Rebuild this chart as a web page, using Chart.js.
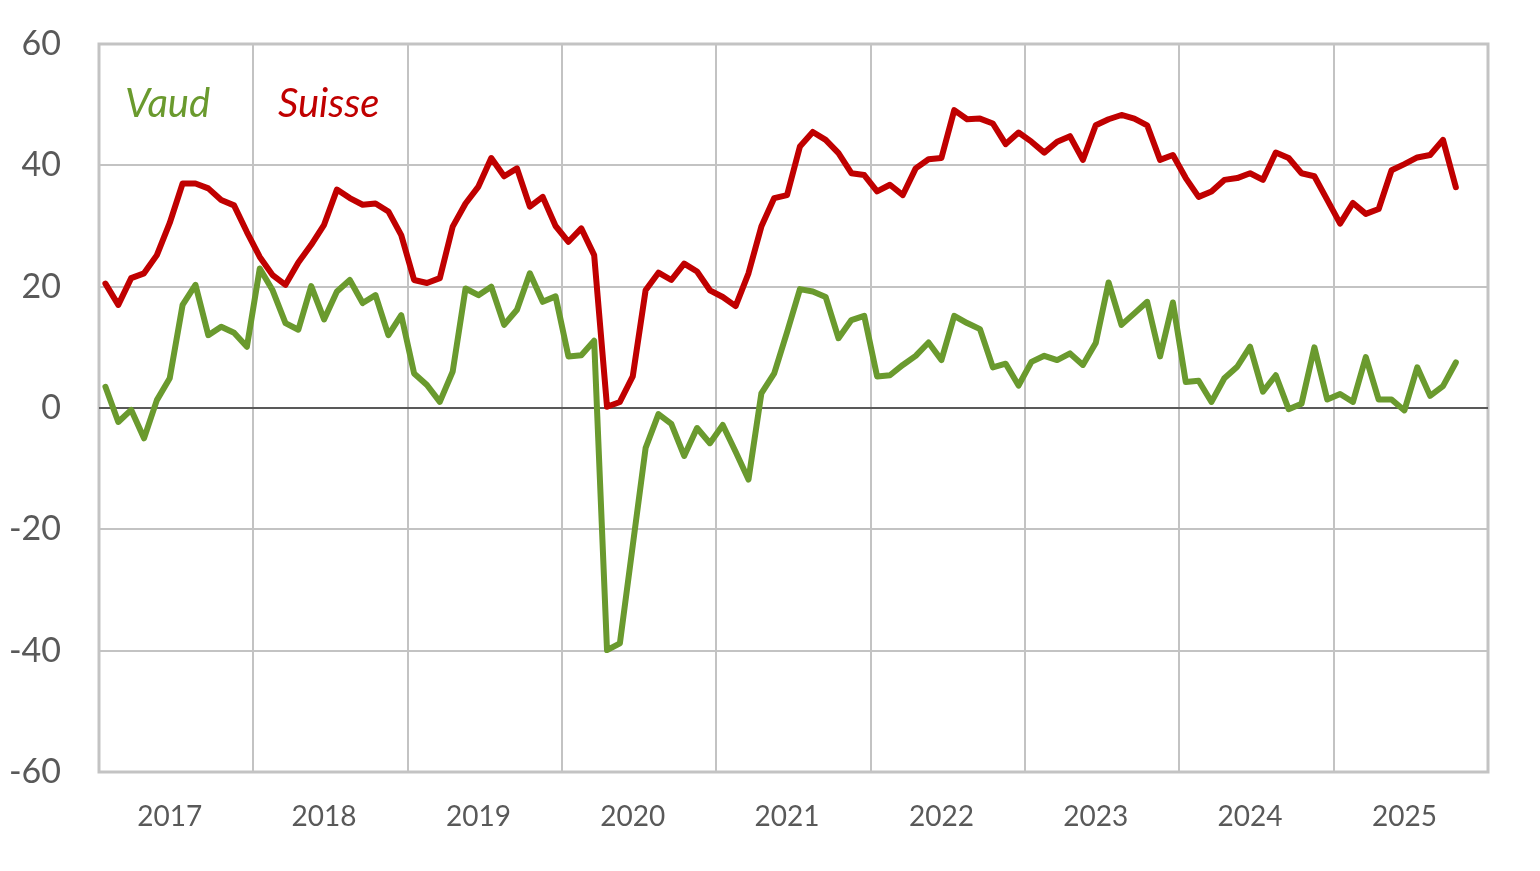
<!DOCTYPE html>
<html><head><meta charset="utf-8">
<script src="https://cdn.jsdelivr.net/npm/chart.js@4"></script>
<style>html,body{margin:0;padding:0;background:#fff;}#wrap{width:1540px;height:871px;}</style>
</head><body><div id="wrap"><canvas id="c" width="1540" height="871"></canvas></div>
<script>
const years = ['2017','2018','2019','2020','2021','2022','2023','2024','2025'];
const months = ['01','02','03','04','05','06','07','08','09','10','11','12'];
const yTicks = [-60,-40,-20,0,20,40,60];
const seriesNames = ['Vaud','Suisse'];

const vaud = [
  3.5,-2.3,-0.3,-5.0,1.3,4.9,17.0,20.3,12.0,13.4,12.4,10.1,
  23.0,19.4,14.0,12.9,20.1,14.6,19.2,21.1,17.3,18.6,12.0,15.3,
  5.7,3.8,1.0,6.0,19.7,18.6,20.0,13.7,16.2,22.2,17.5,18.4,
  8.5,8.7,11.1,-39.9,-38.8,-22.7,-6.6,-1.0,-2.6,-7.9,-3.3,-5.8,
  -2.8,-7.2,-11.8,2.4,5.7,12.5,19.6,19.2,18.3,11.5,14.5,15.2,
  5.2,5.4,7.1,8.6,10.8,7.9,15.2,14.0,13.0,6.7,7.3,3.7,
  7.6,8.6,7.9,9.0,7.1,10.7,20.7,13.7,15.6,17.5,8.5,17.4,
  4.3,4.5,1.0,4.9,6.8,10.1,2.7,5.4,-0.2,0.7,10.0,1.4,
  2.3,1.0,8.4,1.4,1.4,-0.4,6.7,2.0,3.6,7.5
];
const suisse = [
  20.5,17.0,21.4,22.2,25.2,30.5,37.0,37.0,36.2,34.3,33.4,29.0,
  24.9,21.9,20.3,24.0,26.9,30.2,36.0,34.6,33.5,33.7,32.4,28.5,
  21.1,20.6,21.4,29.9,33.7,36.5,41.2,38.2,39.5,33.2,34.8,30.0,
  27.4,29.6,25.2,0.2,1.0,5.2,19.4,22.3,21.1,23.8,22.5,19.4,
  18.3,16.8,22.2,29.9,34.6,35.1,43.1,45.5,44.2,42.0,38.7,38.4,
  35.7,36.8,35.1,39.5,41.0,41.2,49.1,47.6,47.7,46.9,43.5,45.4,
  43.9,42.1,43.9,44.8,40.9,46.6,47.6,48.3,47.7,46.6,40.9,41.7,
  37.9,34.8,35.7,37.6,37.9,38.7,37.6,42.1,41.2,38.7,38.2,34.3,
  30.4,33.8,32.0,32.8,39.2,40.2,41.3,41.7,44.2,36.4
];

const labels = [];
years.forEach(y => months.forEach(m => labels.push(y + '-' + m)));

const GREEN = '#6a9a2e';
const RED = '#c00000';
const GRID = '#c3c3c3';
const TXT = '#595959';
const FONT = 'Lato, "Liberation Sans", sans-serif';

const framePlugin = {
  id: 'frame',
  beforeDatasetsDraw(chart) {
    const a = chart.chartArea, ctx = chart.ctx;
    ctx.save();
    ctx.strokeStyle = GRID;
    ctx.lineWidth = 3;
    ctx.strokeRect(a.left, a.top, a.right - a.left, a.bottom - a.top);
    const y0 = chart.scales.y.getPixelForValue(0);
    ctx.strokeStyle = TXT;
    ctx.lineWidth = 2;
    ctx.beginPath(); ctx.moveTo(a.left, y0); ctx.lineTo(a.right, y0); ctx.stroke();
    ctx.restore();
  },
  afterDatasetsDraw(chart) {
    const a = chart.chartArea, ctx = chart.ctx;
    ctx.save();
    ctx.font = 'italic 40px ' + FONT;
    ctx.textBaseline = 'middle';
    ctx.textAlign = 'left';
    ctx.fillStyle = GREEN;
    ctx.fillText(seriesNames[0], a.left + 26, a.top + 60);
    ctx.fillStyle = RED;
    ctx.fillText(seriesNames[1], a.left + 179, a.top + 60);
    ctx.restore();
  }
};

new Chart(document.getElementById('c'), {
  type: 'line',
  data: {
    labels: labels,
    datasets: [
      { label: seriesNames[0], data: vaud, borderColor: GREEN, borderWidth: 6, pointRadius: 0, tension: 0, borderJoinStyle: 'round', borderCapStyle: 'round', fill: false },
      { label: seriesNames[1], data: suisse, borderColor: RED, borderWidth: 6, pointRadius: 0, tension: 0, borderJoinStyle: 'round', borderCapStyle: 'round', fill: false }
    ]
  },
  options: {
    responsive: false,
    devicePixelRatio: 1,
    animation: false,
    layout: { padding: { top: 44, right: 52, left: 0, bottom: 0 } },
    plugins: { legend: { display: false }, tooltip: { enabled: false } },
    scales: {
      x: {
        type: 'category',
        offset: true,
        grid: {
          offset: true,
          drawTicks: false,
          lineWidth: 2,
          color: ctx => (ctx.index === undefined || ctx.index % 12 === 0) ? GRID : 'rgba(0,0,0,0)'
        },
        border: { display: false },
        ticks: {
          autoSkip: false,
          maxRotation: 0,
          minRotation: 0,
          padding: 28,
          color: TXT,
          font: { family: FONT, size: 28 },
          callback: (v, i) => (i % 12 === 5 ? years[Math.floor(i / 12)] : '')
        },
        afterFit: s => { s.height = 99; s.paddingLeft = 0; s.paddingRight = 0; }
      },
      y: {
        min: -60, max: 60,
        afterBuildTicks: s => { s.ticks = yTicks.map(v => ({ value: v })); },
        grid: {
          drawTicks: false,
          lineWidth: 2,
          color: ctx => (ctx.tick && ctx.tick.value === 0) ? TXT : GRID
        },
        border: { display: false },
        ticks: {
          padding: 38,
          color: TXT,
          font: { family: FONT, size: 34 }
        },
        afterFit: s => { s.width = 99; s.paddingTop = 0; s.paddingBottom = 0; }
      }
    }
  },
  plugins: [framePlugin]
});
</script>
</body></html>
